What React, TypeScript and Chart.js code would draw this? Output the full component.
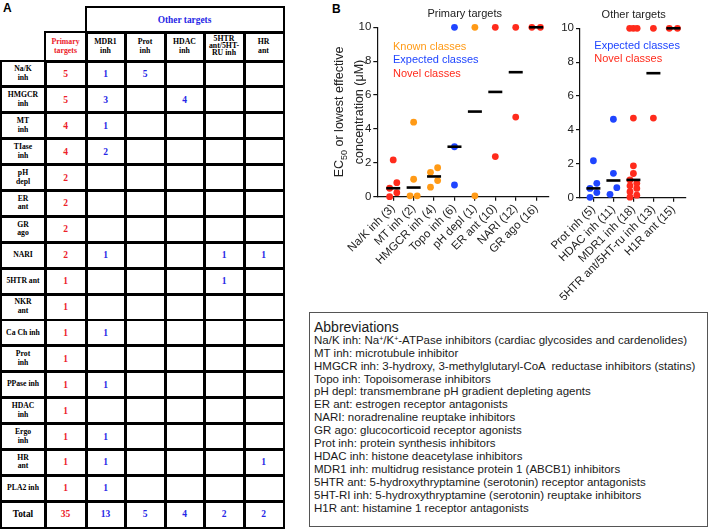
import React, { useEffect, useRef } from "react";
import { Chart, registerables } from "chart.js";
Chart.register(...registerables);

const FONT = "'Liberation Sans', Arial, Helvetica, sans-serif";
const SERIF = "'Liberation Serif', 'Times New Roman', Times, serif";

const RED = "#ff2b1c";
const ORANGE = "#ff9a16";
const BLUE = "#1f45ff";
const TABLE_RED = "#ec2028";
const TABLE_BLUE = "#2626e6";
const TEXT = "#222";

// ---------------- Panel A data ----------------
const tableRowLabels = [
  "Na/K\ninh", "HMGCR\ninh", "MT\ninh", "TIase\ninh", "pH\ndepl", "ER\nant", "GR\nago",
  "NARI", "5HTR ant", "NKR\nant", "Ca Ch inh", "Prot\ninh", "PPase inh", "HDAC\ninh",
  "Ergo\ninh", "HR\nant", "PLA2 inh",
];
const tableGroupHeader = "Other targets";
const tableHeaders = ["Primary\ntargets", "MDR1\ninh", "Prot\ninh", "HDAC\ninh", "5HTR\nant/5HT-\nRU inh", "HR\nant"];
const primaryCounts = [5, 5, 4, 4, 2, 2, 2, 2, 1, 1, 1, 1, 1, 1, 1, 1, 1];
const mdr1Counts = [1, 3, 1, 2, null, null, null, 1, null, null, 1, null, 1, null, 1, 1, 1];
const protCounts = [5, null, null, null, null, null, null, null, null, null, null, null, null, null, null, null, null];
const hdacCounts = [null, 4, null, null, null, null, null, null, null, null, null, null, null, null, null, null, null];
const htrCounts = [null, null, null, null, null, null, null, 1, 1, null, null, null, null, null, null, null, null];
const hrCounts = [null, null, null, null, null, null, null, 1, null, null, null, null, null, null, null, 1, null];
const totalLabel = "Total";
const totals = [35, 13, 5, 4, 2, 2];

// ---------------- Panel B data ----------------
const primaryCategories = [
  "Na/K inh (3)", "MT inh (2)", "HMGCR inh (4)", "Topo inh (6)",
  "pH depl (1)", "ER ant (10)", "NARI (12)", "GR ago (16)",
];
const primaryClasses = ["novel", "known", "known", "expected", "known", "novel", "novel", "novel"];
const primaryValues = [
  [2.17, 0.83, 0.5, 0.24, 0.0],
  [4.4, 1.03, 0.05, 0.05],
  [1.71, 1.44, 0.95, 0.56],
  [10, 2.95, 0.69],
  [10, 0.05],
  [10, 2.37],
  [10, 4.7],
  [10, 10],
];
const primarySpread = [
  [0, 1, -1, 1, -1],
  [0, 0, -1, 1],
  [1, -1, 1, -1],
  [0, 0, 0],
  [0, 0],
  [0, 0],
  [0, 0],
  [-1.2, 1.2],
];

const otherCategories = [
  "Prot inh (5)", "HDAC inh (11)", "MDR1 inh (18)", "5HTR ant/5HT-ru inh (13)", "H1R ant (15)",
];
const otherClasses = ["expected", "expected", "novel", "novel", "novel"];
const otherValues = [
  [2.18, 0.85, 0.55, 0.3, 0.02],
  [4.63, 1.44, 0.59, 0.2],
  [10, 10, 10, 4.7, 1.88, 1.43, 1.05, 0.85, 0.7, 0.55, 0.35, 0.15, 0.03],
  [10, 4.7],
  [10, 10],
];
const otherSpread = [
  [0, 1, -1, 1, -1],
  [0, 0, 1, -1],
  [-1.1, 0, 1.1, 0, 0, 0, -1, 1, -1, 1, -1, 1, -1],
  [0, 0],
  [-1.2, 1.2],
];

const yTicks = [0, 2, 4, 6, 8, 10];
const primaryTitle = "Primary targets";
const otherTitle = "Other targets";
const legendPrimary = [
  { text: "Known classes", cls: "known" },
  { text: "Expected classes", cls: "expected" },
  { text: "Novel classes", cls: "novel" },
];
const legendOther = [
  { text: "Expected classes", cls: "expected" },
  { text: "Novel classes", cls: "novel" },
];

const abbreviationsTitle = "Abbreviations";
const abbreviations = [
  "Na/K inh: Na^+/K^+-ATPase inhibitors (cardiac glycosides and cardenolides)",
  "MT inh: microtubule inhibitor",
  "HMGCR inh: 3-hydroxy, 3-methylglutaryl-CoA  reductase inhibitors (statins)",
  "Topo inh: Topoisomerase inhibitors",
  "pH depl: transmembrane pH gradient depleting agents",
  "ER ant: estrogen receptor antagonists",
  "NARI: noradrenaline reuptake inhibitors",
  "GR ago: glucocorticoid receptor agonists",
  "Prot inh: protein synthesis inhibitors",
  "HDAC inh: histone deacetylase inhibitors",
  "MDR1 inh: multidrug resistance protein 1 (ABCB1) inhibitors",
  "5HTR ant: 5-hydroxythryptamine (serotonin) receptor antagonists",
  "5HT-RI inh: 5-hydroxythryptamine (serotonin) reuptake inhibitors",
  "H1R ant: histamine 1 receptor antagonists",
];

const classColor: Record<string, string> = { known: ORANGE, expected: BLUE, novel: RED };

function median(a: number[]) {
  const s = [...a].sort((x, y) => x - y);
  const n = s.length;
  return n % 2 ? s[(n - 1) / 2] : (s[n / 2 - 1] + s[n / 2]) / 2;
}

const annotPlugin = {
  id: "annot",
  afterDraw(chart: any, _args: any, o: any) {
    const ctx = chart.ctx;
    for (const t of o.items || []) {
      ctx.save();
      ctx.font = t.font;
      ctx.fillStyle = t.color;
      ctx.textAlign = t.align;
      ctx.textBaseline = "middle";
      ctx.fillText(t.text, t.x, t.y);
      ctx.restore();
    }
    if (o.yTitle) {
      const { x, y } = o.yTitle;
      ctx.save();
      ctx.translate(x, y);
      ctx.rotate(-Math.PI / 2);
      ctx.fillStyle = TEXT;
      const big = `12.5px ${FONT}`;
      const small = `9px ${FONT}`;
      ctx.font = big;
      const wEC = ctx.measureText("EC").width;
      const rest = " or lowest effective";
      const wRest = ctx.measureText(rest).width;
      ctx.font = small;
      const w50 = ctx.measureText("50").width;
      let cx = -(wEC + w50 + wRest) / 2;
      ctx.textAlign = "left";
      ctx.textBaseline = "alphabetic";
      ctx.font = big;
      ctx.fillText("EC", cx, 4.5);
      cx += wEC;
      ctx.font = small;
      ctx.fillText("50", cx, 8);
      cx += w50;
      ctx.font = big;
      ctx.fillText(rest, cx, 4.5);
      ctx.textAlign = "center";
      ctx.fillText("concentration (\u03bcM)", 0, 4.5 + 19.5);
      ctx.restore();
    }
  },
};

function makeConfig(p: any) {
  const datasets: any[] = [];
  const medians = p.values.map((v: number[], i: number) => ({ x: i, y: median(v) }));
  datasets.push({
    data: medians,
    pointStyle: "line",
    pointRadius: 7,
    pointBorderWidth: 2.6,
    pointBorderColor: "#000",
    pointBackgroundColor: "#000",
    clip: false,
  });
  for (const cls of ["novel", "expected", "known"]) {
    const pts: any[] = [];
    p.values.forEach((vals: number[], i: number) => {
      if (p.classes[i] !== cls) return;
      vals.forEach((v, j) => pts.push({ x: i + p.spread[i][j] * p.unit, y: v }));
    });
    if (!pts.length) continue;
    datasets.push({
      data: pts,
      pointRadius: 3.4,
      pointBorderWidth: 0,
      pointBackgroundColor: classColor[cls],
      pointBorderColor: classColor[cls],
      clip: false,
    });
  }
  const cats = p.categories;
  return {
    type: "scatter",
    data: { datasets },
    plugins: [annotPlugin],
    options: {
      responsive: false,
      animation: false,
      devicePixelRatio: 1,
      events: [],
      layout: { padding: { top: p.padTop, right: p.padRight, left: 0, bottom: 0 } },
      plugins: {
        legend: { display: false },
        tooltip: { enabled: false },
        annot: { items: p.texts, yTitle: p.yTitle },
      },
      scales: {
        x: {
          type: "linear",
          min: p.xMin,
          max: p.xMax,
          afterFit: (s: any) => { s.height = p.xHeight; },
          grid: { display: true, drawOnChartArea: false, drawTicks: true, tickLength: 4, color: "#111", lineWidth: 1.2 },
          border: { display: true, color: "#111", width: 1.2 },
          ticks: {
            stepSize: 1,
            includeBounds: false,
            autoSkip: false,
            minRotation: 45,
            maxRotation: 45,
            padding: 1,
            color: TEXT,
            font: { family: FONT, size: 11.5 },
            callback: (v: number) => {
              const i = Math.round(v);
              return Math.abs(v - i) < 1e-6 && i >= 0 && i < cats.length ? cats[i] : "";
            },
          },
        },
        y: {
          type: "linear",
          min: 0,
          max: 10,
          afterFit: (s: any) => { s.width = p.yWidth; },
          afterBuildTicks: (s: any) => { s.ticks = yTicks.map((v) => ({ value: v })); },
          grid: { display: true, drawOnChartArea: false, drawTicks: true, tickLength: 4, color: "#111", lineWidth: 1.2 },
          border: { display: true, color: "#111", width: 1.2 },
          ticks: { padding: 2, color: TEXT, font: { family: FONT, size: 11.5 } },
        },
      },
    },
  };
}

function ChartCanvas({ config, left, top, width, height }: any) {
  const ref = useRef<HTMLCanvasElement | null>(null);
  useEffect(() => {
    if (!ref.current) return;
    const c = new Chart(ref.current, config);
    return () => c.destroy();
  }, []);
  return (
    <canvas
      ref={ref}
      width={width}
      height={height}
      style={{ position: "absolute", left, top, width, height }}
    />
  );
}

// ---------- table layout ----------
const COL = [1, 45, 86, 125, 165, 204, 244, 283];
const HEAD1 = [7, 32];
const HEAD2 = [32, 61];
const ROW_TOP = 61;
const ROW_H = 25.9;
const BW = 2;
const HALF = 1.5;

function Cell({ x0, x1, y0, y1, children, style }: any) {
  return (
    <div
      style={{
        position: "absolute",
        left: x0 - HALF,
        top: y0 - HALF,
        width: x1 - x0 + 2 * HALF,
        height: y1 - y0 + 2 * HALF,
        border: `${BW}px solid #000`,
        boxSizing: "border-box",
        display: "flex",
        alignItems: "center",
        justifyContent: "center",
        textAlign: "center",
        whiteSpace: "pre-line",
        fontFamily: SERIF,
        fontWeight: "bold",
        color: "#000",
        ...style,
      }}
    >
      {children}
    </div>
  );
}

function TablePanel() {
  const cols = [primaryCounts, mdr1Counts, protCounts, hdacCounts, htrCounts, hrCounts];
  const cells: any[] = [];
  cells.push(
    <Cell key="grp" x0={COL[2]} x1={COL[7]} y0={HEAD1[0]} y1={HEAD1[1]} style={{ color: TABLE_BLUE, fontSize: 9.4 }}>
      {tableGroupHeader}
    </Cell>
  );
  tableHeaders.forEach((h, c) => {
    const lines = h.split("\n").length;
    cells.push(
      <Cell key={"h" + c} x0={COL[c + 1]} x1={COL[c + 2]} y0={HEAD2[0]} y1={HEAD2[1]}
        style={{ color: c === 0 ? TABLE_RED : "#000", fontSize: 7.8, lineHeight: lines > 2 ? "6.7px" : "8.7px" }}>
        {h}
      </Cell>
    );
  });
  tableRowLabels.forEach((lab, r) => {
    const y0 = ROW_TOP + r * ROW_H;
    const y1 = y0 + ROW_H;
    cells.push(
      <Cell key={"l" + r} x0={COL[0]} x1={COL[1]} y0={y0} y1={y1} style={{ fontSize: 7.7, lineHeight: "8.7px" }}>
        {lab}
      </Cell>
    );
    cols.forEach((arr, c) => {
      const v = arr[r];
      cells.push(
        <Cell key={"c" + r + "_" + c} x0={COL[c + 1]} x1={COL[c + 2]} y0={y0} y1={y1}
          style={{ color: c === 0 ? TABLE_RED : TABLE_BLUE, fontSize: 9.5 }}>
          {v == null ? "" : String(v)}
        </Cell>
      );
    });
  });
  const ty0 = ROW_TOP + tableRowLabels.length * ROW_H;
  const ty1 = ty0 + ROW_H;
  cells.push(
    <Cell key="tl" x0={COL[0]} x1={COL[1]} y0={ty0} y1={ty1} style={{ fontSize: 9.3 }}>
      {totalLabel}
    </Cell>
  );
  totals.forEach((v, c) => {
    cells.push(
      <Cell key={"t" + c} x0={COL[c + 1]} x1={COL[c + 2]} y0={ty0} y1={ty1}
        style={{ color: c === 0 ? TABLE_RED : TABLE_BLUE, fontSize: 9.5 }}>
        {String(v)}
      </Cell>
    );
  });
  return <>{cells}</>;
}

function renderSup(line: string) {
  const parts = line.split("^+");
  const out: any[] = [];
  parts.forEach((p, i) => {
    out.push(<span key={"p" + i}>{p}</span>);
    if (i < parts.length - 1)
      out.push(
        <sup key={"s" + i} style={{ fontSize: 7, lineHeight: 0, verticalAlign: "3.5px" }}>+</sup>
      );
  });
  return out;
}

export default function App() {
  const L0 = 290;
  const R0 = 540;
  const leftConfig = makeConfig({
    categories: primaryCategories,
    classes: primaryClasses,
    values: primaryValues,
    spread: primarySpread,
    unit: 0.175,
    xMin: -0.78,
    xMax: 7.63,
    yWidth: 87.3,
    xHeight: 272 - 196.7,
    padTop: 27.3,
    padRight: 270 - 259,
    texts: [
      { text: primaryTitle, x: 464.7 - L0, y: 14, color: TEXT, align: "center", font: `11px ${FONT}` },
      ...legendPrimary.map((l, i) => ({
        text: l.text, x: 103, y: 46.7 + i * 13.5, color: classColor[l.cls], align: "left", font: `11px ${FONT}`,
      })),
    ],
    yTitle: { x: 338.5 - L0, y: 112 },
  });
  const rightConfig = makeConfig({
    categories: otherCategories,
    classes: otherClasses,
    values: otherValues,
    spread: otherSpread,
    unit: 0.17,
    xMin: -0.67,
    xMax: 4.63,
    yWidth: 40,
    xHeight: 300 - 197.7,
    padTop: 28.3,
    padRight: 169 - 146,
    texts: [
      { text: otherTitle, x: 633.7 - R0, y: 15, color: TEXT, align: "center", font: `11px ${FONT}` },
      ...legendOther.map((l, i) => ({
        text: l.text, x: 594.3 - R0, y: 45.7 + i * 12.8, color: classColor[l.cls], align: "left", font: `11px ${FONT}`,
      })),
    ],
  });

  return (
    <div
      style={{
        position: "fixed",
        left: 0,
        top: 0,
        width: 709,
        height: 530,
        background: "#fff",
        overflow: "hidden",
        fontFamily: FONT,
      }}
    >
      <div style={{ position: "absolute", left: 3, top: 1, fontSize: 12, fontWeight: "bold", fontFamily: FONT }}>A</div>
      <div style={{ position: "absolute", left: 332, top: 2, fontSize: 12, fontWeight: "bold", fontFamily: FONT }}>B</div>
      <TablePanel />
      <ChartCanvas config={rightConfig} left={R0} top={0} width={169} height={300} />
      <ChartCanvas config={leftConfig} left={L0} top={0} width={270} height={272} />
      <div
        style={{
          position: "absolute",
          left: 309,
          top: 312,
          width: 399,
          height: 215,
          border: "1px solid #555",
          boxSizing: "border-box",
          paddingLeft: 4,
          paddingTop: 7.8,
          color: "#1a1a1a",
          fontFamily: FONT,
        }}
      >
        <div style={{ fontSize: 14, lineHeight: "13px", whiteSpace: "pre" }}>{abbreviationsTitle}</div>
        {abbreviations.map((a, i) => (
          <div key={i} style={{ fontSize: 11.5, lineHeight: "12.9px", whiteSpace: "pre" }}>
            {renderSup(a)}
          </div>
        ))}
      </div>
    </div>
  );
}
